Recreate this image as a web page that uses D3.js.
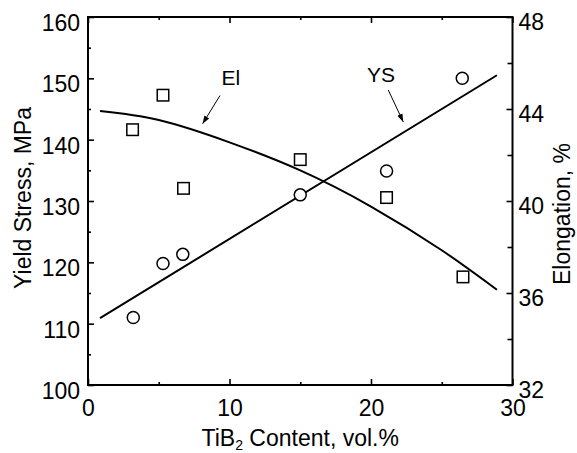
<!DOCTYPE html>
<html>
<head>
<meta charset="utf-8">
<script src="https://cdn.jsdelivr.net/npm/d3@7"></script>
<style>
  body { margin: 0; background: #fff; }
  svg text { font-family: "Liberation Sans", Arial, sans-serif; fill: #000; }
</style>
</head>
<body>
<script>
(function(){

	// measured points, yield stress (circles)
	var ysX = [3.2, 5.3, 6.7, 15, 21.1, 26.45];
	var ysVal = [111, 119.8, 121.3, 131, 134.9, 150];

	// measured points, elongation (squares)
	var elX = [3.15, 5.3, 6.75, 15, 21.1, 26.5];
	var elVal = [43.1, 44.6, 40.55, 41.8, 40.15, 36.7];

	// fitted lines
	var ysFitX = [0.85, 28.9];
	var ysFit = [110.9, 150.5];
	var elFitX = [0.85, 5, 10, 15, 20, 25, 28.9];
	var elFit = [43.91, 43.52, 42.55, 41.33, 39.76, 37.86, 36.14];

	// tick values
	var xMajor = [0, 10, 20, 30],
		xMinor = [5, 15, 25];
	var yLeftMajor = [100, 110, 120, 130, 140, 150, 160],
		yLeftMinor = [105, 115, 125, 135, 145, 155];
	var yRightMajor = [32, 36, 40, 44, 48],
		yRightMinor = [34, 38, 42, 46];

	var width = 577,
		height = 453;

	var svg = d3.select("body")
		.append("svg")
		.attr("width", width)
		.attr("height", height);

	var x = d3.scaleLinear().domain([0, 30]).range([88, 512.5]);
	var yL = d3.scaleLinear().domain([100, 160]).range([385, 17]);
	var yR = d3.scaleLinear().domain([32, 48]).range([385, 17]);

	//axes - ticks point inward
	function styleAxis(g, fs){
		g.select(".domain").remove();
		g.selectAll("line").attr("stroke", "#000").attr("stroke-width", 1.6);
		g.selectAll("text").style("font-size", fs + "px").attr("fill", "#000");
	}

	svg.append("g").attr("transform", "translate(0,385)")
		.call(d3.axisBottom(x).tickValues(xMajor).tickSize(-6).tickPadding(15).tickFormat(d3.format("d")))
		.call(styleAxis, 23);
	svg.append("g").attr("transform", "translate(0,385)")
		.call(d3.axisBottom(x).tickValues(xMinor).tickSize(-3).tickFormat(""))
		.call(styleAxis, 23);
	svg.append("g").attr("transform", "translate(0,17)")
		.call(d3.axisTop(x).tickValues(xMajor).tickSize(-6).tickFormat(""))
		.call(styleAxis, 23);
	svg.append("g").attr("transform", "translate(0,17)")
		.call(d3.axisTop(x).tickValues(xMinor).tickSize(-3).tickFormat(""))
		.call(styleAxis, 23);

	var left = svg.append("g").attr("transform", "translate(88,0)")
		.call(d3.axisLeft(yL).tickValues(yLeftMajor).tickSize(-6).tickPadding(8))
		.call(styleAxis, 23);
	left.selectAll("text").attr("y", 6);
	svg.append("g").attr("transform", "translate(88,0)")
		.call(d3.axisLeft(yL).tickValues(yLeftMinor).tickSize(-3).tickFormat(""))
		.call(styleAxis, 23);

	var right = svg.append("g").attr("transform", "translate(512.5,0)")
		.call(d3.axisRight(yR).tickValues(yRightMajor).tickSize(-6).tickPadding(6))
		.call(styleAxis, 23);
	right.selectAll("text").attr("y", 5);
	svg.append("g").attr("transform", "translate(512.5,0)")
		.call(d3.axisRight(yR).tickValues(yRightMinor).tickSize(-5).tickFormat(""))
		.call(styleAxis, 23);

	//frame
	svg.append("rect")
		.attr("x", x(0)).attr("y", yL(160))
		.attr("width", x(30) - x(0)).attr("height", yL(100) - yL(160))
		.attr("fill", "none").attr("stroke", "#000").attr("stroke-width", 2);

	//axis titles
	var xt = svg.append("text")
		.attr("x", (x(0) + x(30)) / 2).attr("y", 446)
		.attr("text-anchor", "middle")
		.style("font-size", "23px");
	xt.append("tspan").text("TiB");
	xt.append("tspan").attr("dy", 4).style("font-size", "14px").text("2");
	xt.append("tspan").attr("dy", -4).text(" Content, vol.%");

	svg.append("text")
		.attr("transform", "translate(31,198) rotate(-90)")
		.attr("text-anchor", "middle")
		.style("font-size", "23px")
		.text("Yield Stress, MPa");

	svg.append("text")
		.attr("transform", "translate(570,214) rotate(-90)")
		.attr("text-anchor", "middle")
		.style("font-size", "23px")
		.text("Elongation, %");

	//fitted lines
	var ysLine = d3.line()
		.x(function(d, i){ return x(ysFitX[i]); })
		.y(function(d){ return yL(d); });
	svg.append("path")
		.attr("d", ysLine(ysFit))
		.attr("fill", "none").attr("stroke", "#000").attr("stroke-width", 2);

	var elLine = d3.line()
		.x(function(d, i){ return x(elFitX[i]); })
		.y(function(d){ return yR(d); })
		.curve(d3.curveNatural);
	svg.append("path")
		.attr("d", elLine(elFit))
		.attr("fill", "none").attr("stroke", "#000").attr("stroke-width", 2);

	//markers
	svg.selectAll(".ys")
		.data(ysVal)
		.enter()
		.append("circle")
		.attr("class", "ys")
		.attr("cx", function(d, i){ return x(ysX[i]); })
		.attr("cy", function(d){ return yL(d); })
		.attr("r", 6)
		.attr("fill", "#fff").attr("stroke", "#000").attr("stroke-width", 1.5);

	svg.selectAll(".el")
		.data(elVal)
		.enter()
		.append("rect")
		.attr("class", "el")
		.attr("x", function(d, i){ return x(elX[i]) - 5.75; })
		.attr("y", function(d){ return yR(d) - 5.75; })
		.attr("width", 11.5).attr("height", 11.5)
		.attr("fill", "#fff").attr("stroke", "#000").attr("stroke-width", 1.5);

	//annotations with arrows
	svg.append("defs").append("marker")
		.attr("id", "arr")
		.attr("viewBox", "0 0 10 10")
		.attr("refX", 10).attr("refY", 5)
		.attr("markerWidth", 8).attr("markerHeight", 8)
		.attr("markerUnits", "userSpaceOnUse")
		.attr("orient", "auto")
		.append("path")
		.attr("d", "M0,1.5 L10,5 L0,8.5 Z")
		.attr("fill", "#000");

	var notes = [
		{label: "El", tx: 10.1, ty: 148.9, x1: 9.33, y1: 147.2, x2: 8.1, y2: 142.6},
		{label: "YS", tx: 20.7, ty: 149.4, x1: 21.22, y1: 148.1, x2: 22.28, y2: 142.9}
	];
	notes.forEach(function(n){
		svg.append("text")
			.attr("x", x(n.tx)).attr("y", yL(n.ty))
			.attr("text-anchor", "middle")
			.style("font-size", "21px")
			.text(n.label);
		svg.append("line")
			.attr("x1", x(n.x1)).attr("y1", yL(n.y1))
			.attr("x2", x(n.x2)).attr("y2", yL(n.y2))
			.attr("stroke", "#000").attr("stroke-width", 1)
			.attr("marker-end", "url(#arr)");
	});

})();
</script>
</body>
</html>
